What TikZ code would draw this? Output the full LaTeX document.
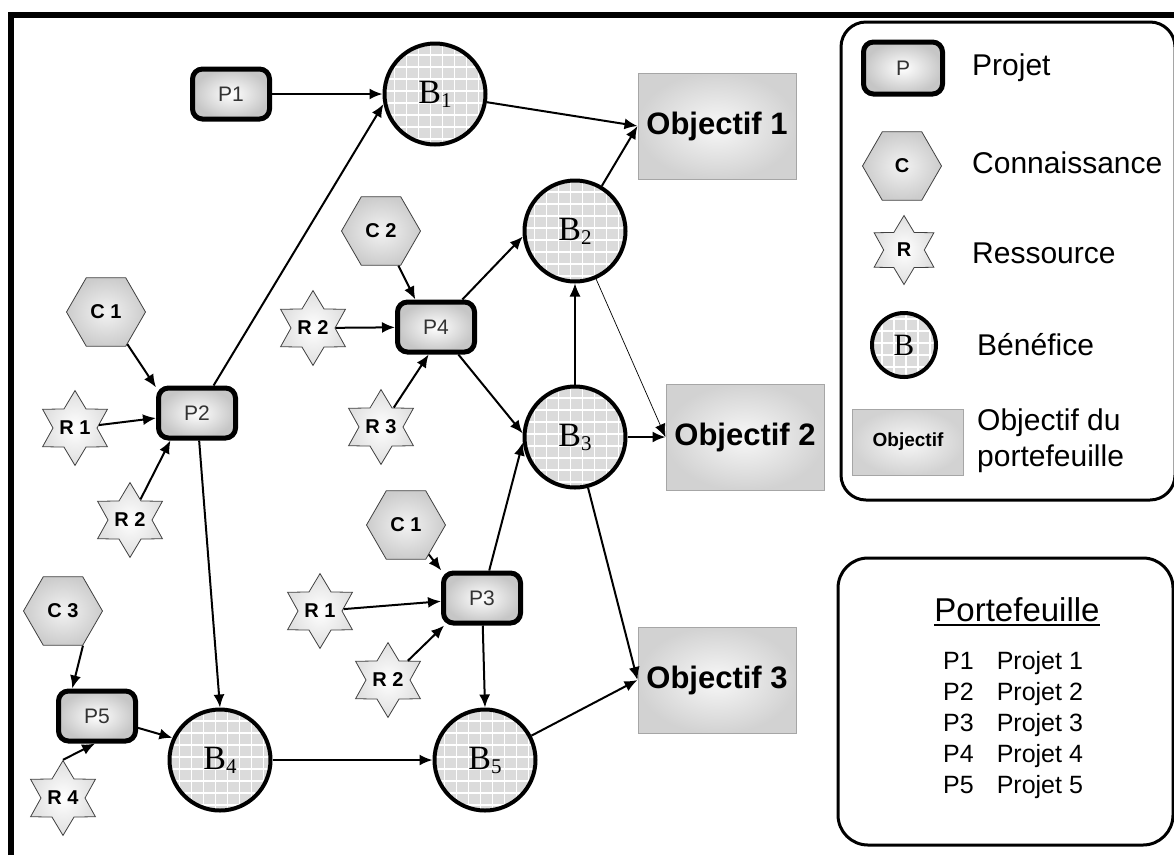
\documentclass[tikz,border=0pt]{standalone}
\usepackage{fontspec}
\setmainfont{Liberation Sans}
\newfontfamily\serifB{Liberation Serif}
\usetikzlibrary{positioning, calc, arrows.meta, shapes.geometric}
\newcommand{\taille}[1]{\fontsize{#1}{#1}\selectfont}
\newcommand{\indice}[1]{\raisebox{-4pt}{\taille{21}#1}}
\newsavebox{\boiteS}
\newcommand{\souligne}[1]{\sbox{\boiteS}{#1}\rlap{\rule[-4.5pt]{\wd\boiteS}{2.5pt}}\usebox{\boiteS}}

\tikzset{
	projet/.style={draw, line width=5pt, rounded corners=10pt, minimum width=77pt, minimum height=50pt, inner color=white, outer color=gray!45, text=black!80, font=\taille{21}},
	connais/.style={regular polygon, regular polygon sides=6, minimum size=79pt, inner sep=0pt, draw=black!75, line width=0.8pt, inner color=gray!10, outer color=gray!40, font=\bfseries\taille{20}},
	ressource/.style={star, star points=6, star point ratio=1.7, minimum size=73pt, inner sep=0pt, draw=black!75, line width=0.8pt, inner color=white, outer color=gray!25, font=\bfseries\taille{20}},
	benef/.style={circle, draw, line width=4pt, minimum size=101pt, inner sep=0pt, fill=gray!28, font=\serifB\taille{34},
		path picture={\draw[white, line width=1.8pt] (path picture bounding box.south west) grid[step=12pt] (path picture bounding box.north east);}},
	objectif/.style={draw=gray!70, line width=1pt, minimum width=158pt, minimum height=106pt, inner color=gray!6, outer color=gray!35, font=\bfseries\taille{31}},
	fleche/.style={-{Latex[length=13pt,width=11pt]}, line width=2pt},
	legtxt/.style={anchor=west, inner sep=0pt, font=\taille{30}},
}

\begin{document}
\begin{tikzpicture}[x=1pt, y=-1pt]
	\useasboundingbox (0,0) rectangle (1174,855);
	\draw[line width=6pt] (11,855) -- (11,15) -- (1174,15);
	
	% benefices et objectifs
	\node[benef](B1) at (435,94){B\indice{1}};
	\node[benef](B2) at (575,231){B\indice{2}};
	\node[benef](B3) at (575,437){B\indice{3}};
	\node[benef](B4) at (220,760){B\indice{4}};
	\node[benef](B5) at (485,760){B\indice{5}};
	\node[objectif](obj1) at (717,126){Objectif 1};
	\node[objectif](obj2) at (745,437){Objectif 2};
	\node[objectif](obj3) at (717,680){Objectif 3};
	
	% projets
	\node[projet](P1) at (231,94){P1};
	\node[projet](P2) at (197,413){P2};
	\node[projet](P3) at (482,598){P3};
	\node[projet](P4) at (436,327){P4};
	\node[projet](P5) at (97,716){P5};
	
	% connaissances et ressources
	\node[connais](C1a) at (106,312){C 1};
	\node[connais](C2) at (381,231){C 2};
	\node[connais](C1b) at (406,525){C 1};
	\node[connais](C3) at (63,611){C 3};
	\node[ressource](R1a) at (75,428){R 1};
	\node[ressource](R2a) at (130,520){R 2};
	\node[ressource](R2b) at (313,328){R 2};
	\node[ressource](R3) at (381,427){R 3};
	\node[ressource](R1b) at (320,611){R 1};
	\node[ressource](R2c) at (388,680){R 2};
	\node[ressource](R4) at (63,798){R 4};
	
	\draw[fleche] (P1) -- (B1);
	\draw[fleche] (P2) -- (B1.191);
	\draw[fleche] (P2) -- (B4.north);
	\draw[fleche] (C1a) -- (P2.148);
	\draw[fleche] (R1a) -- (P2);
	\draw[fleche] (R2a) -- (P2.226);
	\draw[fleche] (C2) -- (P4.127);
	\draw[fleche] (R2b) -- (P4);
	\draw[fleche] (R3) -- (P4.255);
	\draw[fleche] (P4) -- (B2.186);
	\draw[fleche] (P4) -- (B3.176);
	\draw[fleche] (P3) -- (B3.186);
	\draw[fleche] (C1b) -- (P3.146);
	\draw[fleche] (R1b) -- (P3);
	\draw[fleche] (R2c) -- (P3.216);
	\draw[fleche] (P3) -- (B5.north);
	\draw[fleche] (P5) -- (B4.155);
	\draw[fleche] (C3.-60) -- (P5.132);
	\draw[fleche] (R4.north) -- (P5.266);
	\draw[fleche] (B4) -- (B5);
	\draw[fleche] (B1) -- (obj1.west);
	\draw[fleche] (B2) -- (obj1.west);
	\draw[fleche, line width=1.2pt] (B3) -- (B2);
	\draw[fleche, line width=0.7pt] (B2) -- (obj2.west);
	\draw[fleche] (B3) -- (obj2.west);
	\draw[fleche] (B3) -- (obj3.west);
	\draw[fleche] (B5) -- (obj3.west);
	
	% legende
	\draw[line width=3pt, rounded corners=25pt] (841,22) rectangle (1175,500);
	\node[projet, minimum width=79pt, minimum height=52pt](legP) at (903,68){P};
	\node[connais](legC) at (902,166){C};
	\node[ressource, minimum size=69pt](legR) at (904,250){R};
	\node[benef, minimum size=64pt, font=\serifB\taille{31}](legB) at (904,345){B};
	\node[objectif, minimum width=111pt, minimum height=66pt, font=\bfseries\taille{19}](legO) at (908,442){Objectif};
	\node[legtxt](tP) at (972,68){Projet};
	\node[legtxt](tC) at (972,163){Connaissance};
	\node[legtxt](tR) at (972,253){Ressource};
	\node[legtxt](tB) at (977,345){Bénéfice};
	\node[legtxt, align=left, font=\fontsize{30}{36}\selectfont](tO) at (977,441){Objectif du\\portefeuille};
	
	% portefeuille
	\draw[line width=3pt, rounded corners=30pt] (838,558) rectangle (1173,845);
	\node[font=\taille{33}](titre) at (1017,612){\souligne{Portefeuille}};
	\node[anchor=west, inner sep=0pt, font=\fontsize{25}{31}\selectfont](liste) at (943,725){%
		\begin{tabular}{@{}l@{\hspace{23pt}}l@{}}
			P1 & Projet 1\\
			P2 & Projet 2\\
			P3 & Projet 3\\
			P4 & Projet 4\\
			P5 & Projet 5
		\end{tabular}};
\end{tikzpicture}
\end{document}
